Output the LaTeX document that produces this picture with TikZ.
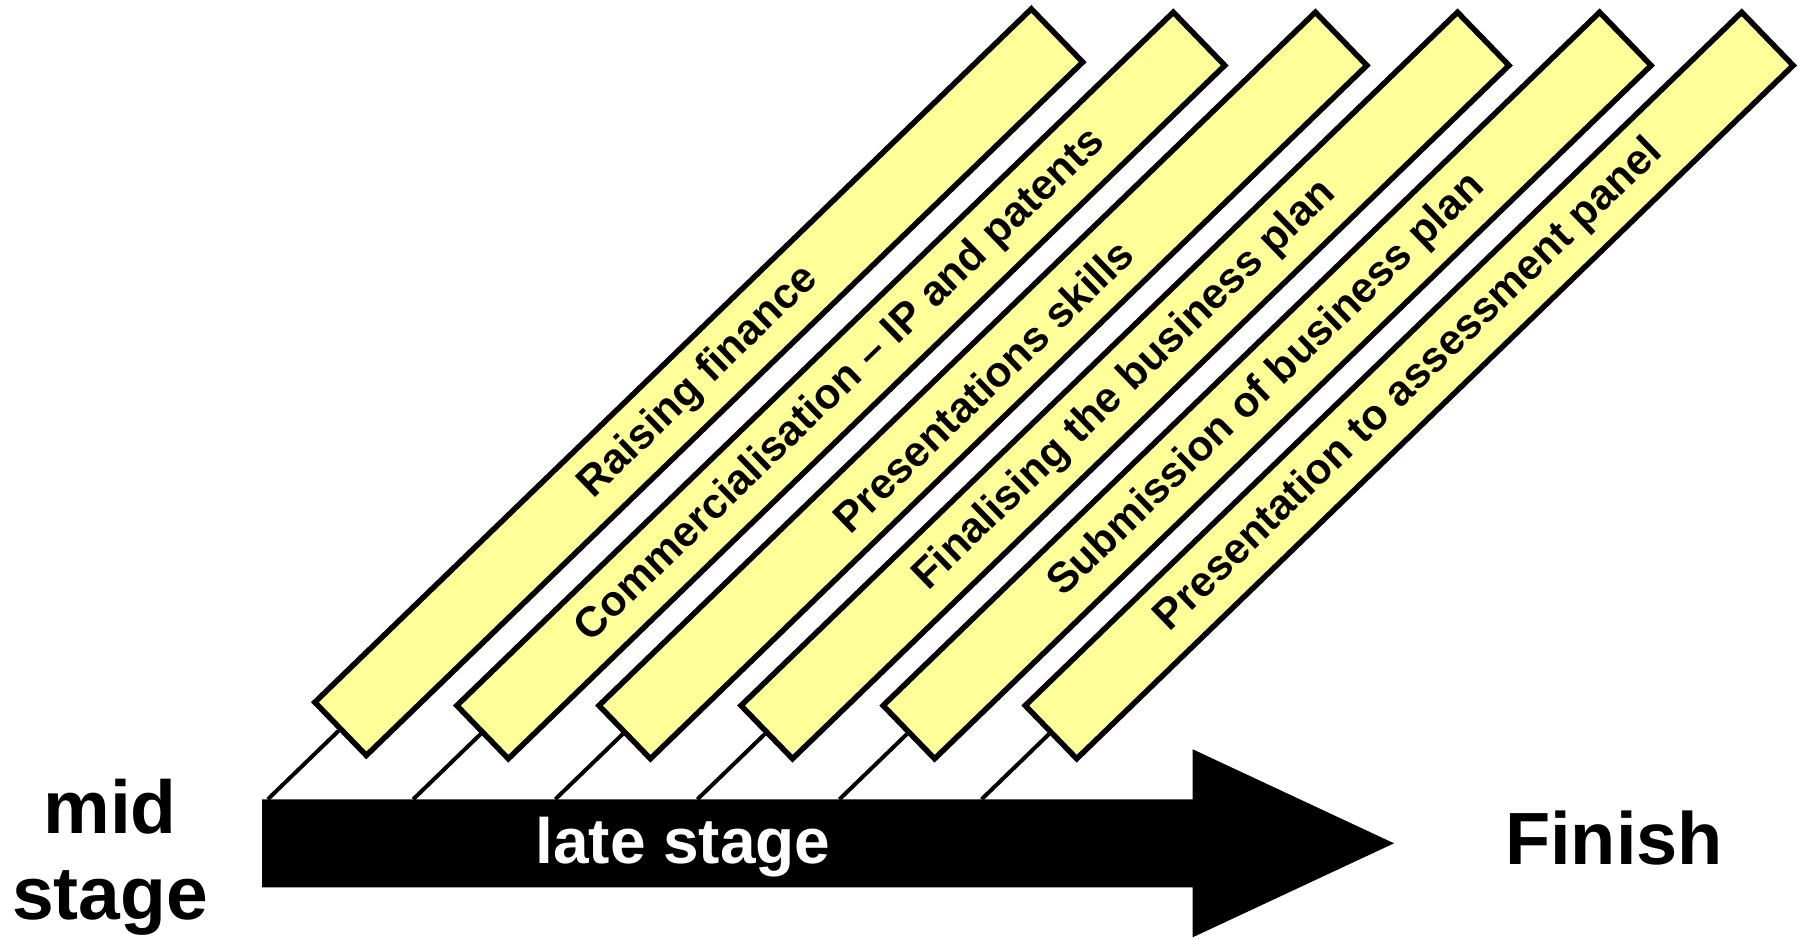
\documentclass[tikz,border=0pt]{standalone}
\usepackage{fontspec}
\setmainfont{Liberation Sans}
\definecolor{taskfill}{HTML}{FFFF99}
\begin{document}
\begin{tikzpicture}[x=1pt,y=1pt,
  task/.style={draw=black, line width=5.5pt, fill=taskfill, rectangle,
    minimum width=997pt, minimum height=74pt, inner sep=0pt, rotate=44.06,
    font=\fontsize{42.5}{48}\selectfont\bfseries},
  stem/.style={line width=4pt},
  biglabel/.style={font=\fontsize{75}{86}\selectfont\bfseries, inner sep=0pt}]
\useasboundingbox (0,0) rectangle (1805,939);

% timeline arrow
\coordinate (atl) at (262,139.7);
\coordinate (atr) at (1192.7,139.7);
\fill[black] (atl) -- (atr) -- (1192.7,189.7) -- (1394,95.7) -- (1192.7,1.7)
  -- (1192.7,51.7) -- (262,51.7) -- cycle;
\node[biglabel, font=\fontsize{64}{70}\selectfont\bfseries, text=white, anchor=base] (late) at (683,75) {late stage};

% end labels
\node[biglabel, anchor=base] (mid) at (110,105) {mid};
\node[biglabel, anchor=base] (stage) at (110,19) {stage};
\node[biglabel, anchor=base, font=\fontsize{74}{80}\selectfont\bfseries] (finish) at (1614,74) {Finish};

% task bars
\node[task] (t1) at (698.8,556.8) {Raising finance};
\node[task] (t2) at (840.8,553.5) {Commercialisation – IP and patents};
\node[task] (t3) at (982.9,553.5) {Presentations skills};
\node[task] (t4) at (1125.0,553.5) {Finalising the business plan};
\node[task] (t5) at (1267.1,553.5) {Submission of business plan};
\node[task] (t6) at (1409.2,553.5) {Presentation to assessment panel};

% stems down to the arrow
\foreach \i in {1,...,6} {
  \coordinate (s\i) at (intersection of t\i.west--t\i.east and atl--atr);
  \draw[stem] (t\i.west) -- (s\i);
}
\end{tikzpicture}
\end{document}
